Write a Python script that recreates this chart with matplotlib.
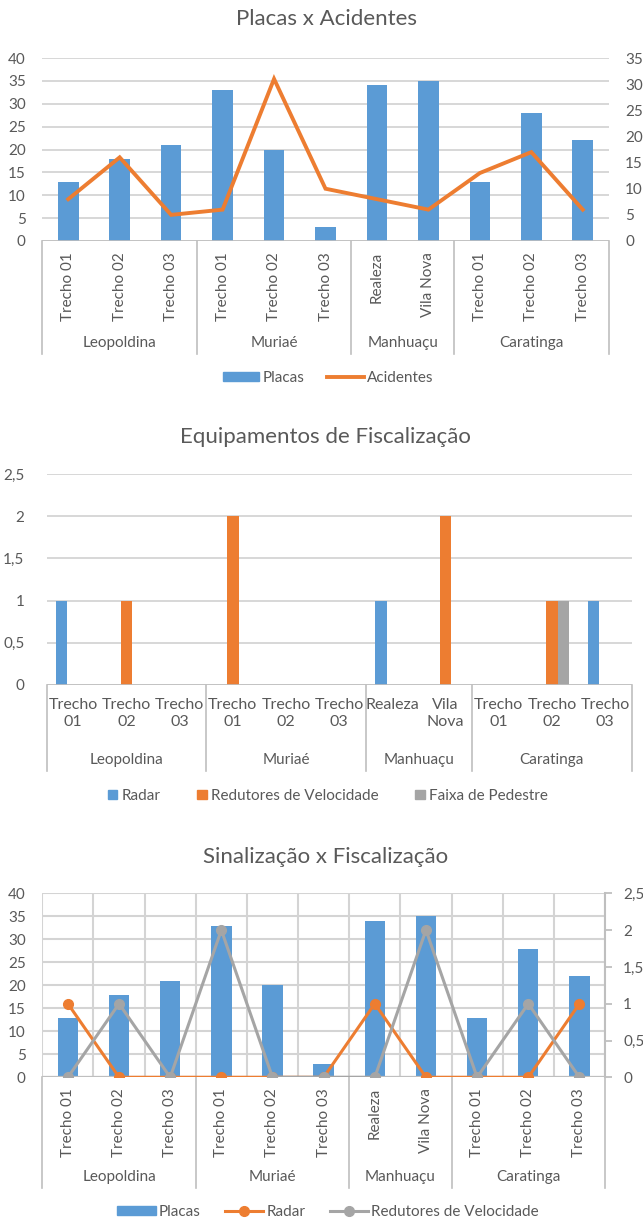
import matplotlib
matplotlib.use("Agg")
import matplotlib.pyplot as plt
import matplotlib.transforms as mtransforms
from matplotlib.lines import Line2D
from matplotlib.patches import Patch

plt.rcParams['font.family'] = ['Lato', 'DejaVu Sans']

# === DADOS ===
grupos = ["Leopoldina", "Muriaé", "Manhuaçu", "Caratinga"]
grupo_tamanho = [3, 3, 2, 3]
trechos = ["Trecho 01", "Trecho 02", "Trecho 03",
           "Trecho 01", "Trecho 02", "Trecho 03",
           "Realeza", "Vila Nova",
           "Trecho 01", "Trecho 02", "Trecho 03"]
placas = [13, 18, 21, 33, 20, 3, 34, 35, 13, 28, 22]
acidentes = [8, 16, 5, 6, 31, 10, 8, 6, 13, 17, 6]
radar = [1, 0, 0, 0, 0, 0, 1, 0, 0, 0, 1]
redutores = [0, 1, 0, 2, 0, 0, 0, 2, 0, 1, 0]
faixa = [0, 0, 0, 0, 0, 0, 0, 0, 0, 1, 0]

ticks_placas = [0, 5, 10, 15, 20, 25, 30, 35, 40]
ticks_acid = [0, 5, 10, 15, 20, 25, 30, 35]
ticks_equip = [0, 0.5, 1, 1.5, 2, 2.5]
ticks_equip_txt = ["0", "0,5", "1", "1,5", "2", "2,5"]

# === ESTILO ===
AZUL = "#5B9BD5"
LARANJA = "#ED7D31"
CINZA = "#A5A5A5"
TEXTO = "#595959"
GRADE = "#D4D4D4"
EIXO = "#BFBFBF"
FS = 11
FT = 16

W, H = 643, 1220
fig = plt.figure(figsize=(W / 100, H / 100), dpi=100)


def fx(p):
    return p / W


def fy(p):
    return 1 - p / H


def area(l, r, t, b):
    return fig.add_axes([fx(l), fy(b), (r - l) / W, (b - t) / H])


def limpa(ax):
    for s in ax.spines.values():
        s.set_visible(False)
    ax.set_xticks([])
    ax.tick_params(axis='y', length=0, labelsize=FS, labelcolor=TEXTO)


def eixo_categorias(ax, labels, base, y_lab, y_grp, y_fim, rot, fs_lab=FS):
    trans = mtransforms.blended_transform_factory(ax.transData, fig.transFigure)
    for i, lab in enumerate(labels):
        ax.text(i, fy(y_lab), lab, rotation=rot, ha='center', va='top',
                ma='center', linespacing=1.3, transform=trans,
                fontsize=fs_lab, color=TEXTO)
    ini = -0.5
    ax.plot([ini, ini], [fy(base), fy(y_fim)], transform=trans,
            color=EIXO, lw=1.2, clip_on=False)
    for g, n in zip(grupos, grupo_tamanho):
        ax.text(ini + n / 2, fy(y_grp), g, ha='center', va='center',
                transform=trans, fontsize=FS, color=TEXTO)
        ini += n
        ax.plot([ini, ini], [fy(base), fy(y_fim)], transform=trans,
                color=EIXO, lw=1.2, clip_on=False)


x = list(range(len(trechos)))

# === GRAFICO 1: Placas x Acidentes ===
ax1 = area(42.5, 608.5, 58, 241)
limpa(ax1)
ax1.bar(x, placas, width=0.4, color=AZUL, zorder=2)
ax1.set_xlim(-0.5, 10.5)
ax1.set_ylim(0, 40)
ax1.set_yticks(ticks_placas)
ax1.grid(axis='y', color=GRADE, lw=1.3, zorder=0)
ax1.set_axisbelow(True)
ax1.axhline(0, color=EIXO, lw=1.2, zorder=3)
ax1.tick_params(axis='y', pad=12)

ax1b = ax1.twinx()
limpa(ax1b)
ax1b.plot(x, acidentes, color=LARANJA, lw=2.8, solid_joinstyle='miter')
ax1b.set_ylim(0, 35)
ax1b.set_yticks(ticks_acid)
ax1b.tick_params(axis='y', pad=12)

eixo_categorias(ax1, trechos, 241, 252, 343, 354, 90)
fig.text(fx(326), fy(19), "Placas x Acidentes", ha='center', va='center',
         fontsize=FT, color=TEXTO)
fig.legend([Patch(color=AZUL), Line2D([], [], color=LARANJA, lw=2.8)],
           ["Placas", "Acidentes"], loc='center',
           bbox_to_anchor=(fx(328), fy(378)), ncol=2, frameon=False,
           fontsize=FS, labelcolor=TEXTO, handlelength=2.4, handleheight=0.5,
           handletextpad=0.2, columnspacing=1.5)

# === GRAFICO 2: Equipamentos de Fiscalizacao ===
ax2 = area(46.7, 631.7, 474, 685)
limpa(ax2)
w = 0.22
ax2.bar([i - w for i in x], radar, width=w, color=AZUL, zorder=2)
ax2.bar(x, redutores, width=w, color=LARANJA, zorder=2)
ax2.bar([i + w for i in x], faixa, width=w, color=CINZA, zorder=2)
ax2.set_xlim(-0.5, 10.5)
ax2.set_ylim(0, 2.5)
ax2.set_yticks(ticks_equip)
ax2.set_yticklabels(ticks_equip_txt)
ax2.grid(axis='y', color=GRADE, lw=1.3, zorder=0)
ax2.set_axisbelow(True)
ax2.axhline(0, color=EIXO, lw=1.2, zorder=3)
ax2.tick_params(axis='y', pad=16)

eixo_categorias(ax2, [t.replace(" ", "\n") for t in trechos],
                685, 698, 760, 771, 0, fs_lab=11.5)
fig.text(fx(325), fy(437), "Equipamentos de Fiscalização", ha='center',
         va='center', fontsize=FT, color=TEXTO)
fig.legend([Patch(color=AZUL), Patch(color=LARANJA), Patch(color=CINZA)],
           ["Radar", "Redutores de Velocidade", "Faixa de Pedestre"],
           loc='center', bbox_to_anchor=(fx(328), fy(796)), ncol=3,
           frameon=False, fontsize=FS, labelcolor=TEXTO, handlelength=0.6,
           handleheight=0.6, handletextpad=0.3, columnspacing=2.4)

# === GRAFICO 3: Sinalizacao x Fiscalizacao ===
ax3 = area(42.3, 605, 893.3, 1077.3)
limpa(ax3)
ax3.bar(x, placas, width=0.4, color=AZUL, zorder=2)
ax3.set_xlim(-0.5, 10.5)
ax3.set_ylim(0, 40)
ax3.set_yticks(ticks_placas)
ax3.set_xticks([i - 0.5 for i in range(len(trechos) + 1)], minor=True)
ax3.tick_params(axis='x', which='minor', length=0)
ax3.grid(axis='y', color=GRADE, lw=1.5, zorder=0)
ax3.grid(axis='x', which='minor', color=GRADE, lw=1.5, zorder=0)
ax3.set_axisbelow(True)
ax3.axhline(0, color=EIXO, lw=1.6, zorder=3)
ax3.tick_params(axis='y', pad=12)

ax3b = ax3.twinx()
limpa(ax3b)
ax3b.spines['right'].set_visible(True)
ax3b.spines['right'].set_color(EIXO)
ax3b.spines['right'].set_linewidth(1.5)
ax3b.plot(x, radar, color=LARANJA, lw=2.2, marker='o', ms=7, zorder=3)
ax3b.plot(x, redutores, color=CINZA, lw=2.2, marker='o', ms=7, zorder=4)
ax3b.set_ylim(0, 2.5)
ax3b.set_yticks(ticks_equip)
ax3b.set_yticklabels(ticks_equip_txt)
ax3b.tick_params(axis='y', length=5, width=1.3, color=EIXO, pad=8)

eixo_categorias(ax3, trechos, 1077.3, 1088, 1177, 1188, 90)
fig.text(fx(326), fy(857), "Sinalização x Fiscalização", ha='center',
         va='center', fontsize=FT, color=TEXTO)
fig.legend([Patch(color=AZUL),
            Line2D([], [], color=LARANJA, lw=2.2, marker='o', ms=7),
            Line2D([], [], color=CINZA, lw=2.2, marker='o', ms=7)],
           ["Placas", "Radar", "Redutores de Velocidade"],
           loc='center', bbox_to_anchor=(fx(328), fy(1212)), ncol=3,
           frameon=False, fontsize=FS, labelcolor=TEXTO, handlelength=2.5,
           handleheight=0.6, handletextpad=0.2, columnspacing=1.6)

fig.savefig("out.png", dpi=100)
